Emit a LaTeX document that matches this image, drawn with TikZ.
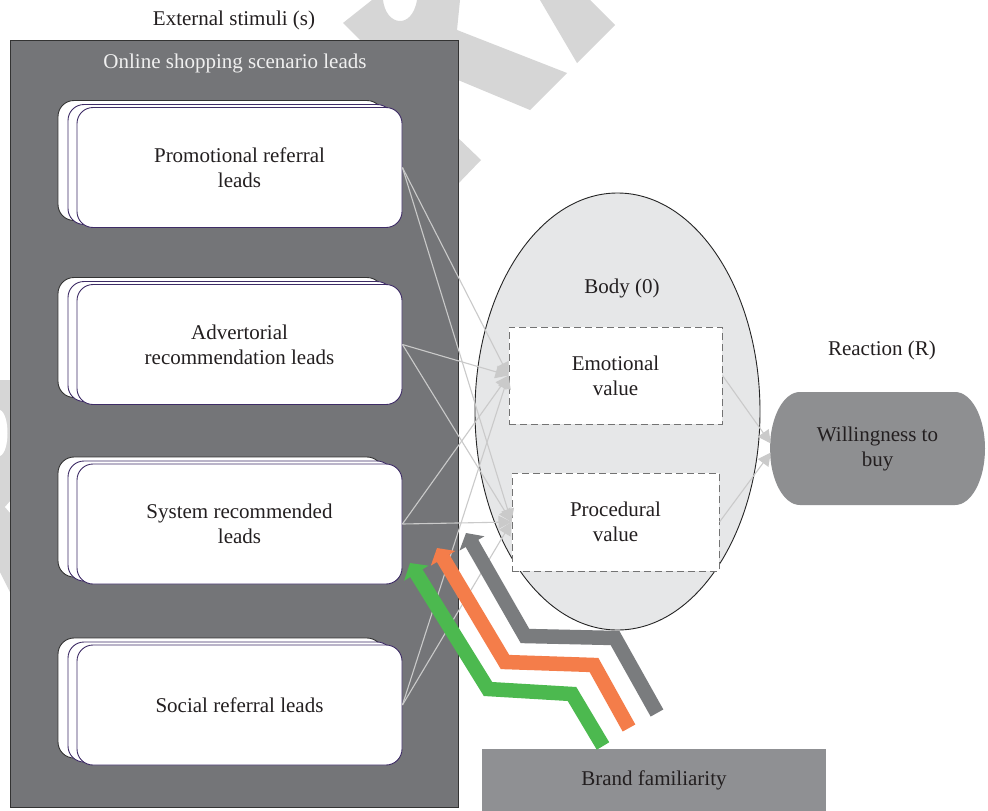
\documentclass[tikz,border=0pt]{standalone}
\usepackage{fontspec}
\setmainfont{Liberation Serif}
\usetikzlibrary{arrows.meta,shapes.geometric,calc}

\definecolor{stimfill}{HTML}{747578}
\definecolor{leadline}{HTML}{3E2C66}
\definecolor{bodyfill}{HTML}{E6E7E8}
\definecolor{pillfill}{HTML}{8E8F91}
\definecolor{brandfill}{HTML}{8F9093}
\definecolor{thinline}{HTML}{CACACA}
\definecolor{zgray}{HTML}{7A7C7E}
\definecolor{zorange}{HTML}{F47D4A}
\definecolor{zgreen}{HTML}{4CB94F}
\definecolor{wmark}{HTML}{D6D6D6}
\definecolor{ink}{HTML}{231F20}

\tikzset{
  lead/.style={rectangle, rounded corners=16pt, minimum width=325pt,
    minimum height=120pt, fill=white, draw=leadline, line width=0.9pt,
    align=center, inner sep=0pt, text=ink},
  leadback/.style={lead, draw=black!80},
  valuebox/.style={rectangle, draw=black!55, dash pattern=on 7pt off 4pt,
    line width=1pt, fill=white, align=center, inner sep=0pt, text=ink},
  label/.style={text=ink, inner sep=0pt},
  flow/.style={draw=thinline, line width=1.1pt,
    -{Triangle[length=13pt,width=13pt]}},
  band/.style={line width=14.5pt, line join=miter,
    -{Triangle[length=12pt,width=28pt]}},
}

\begin{document}
\begin{tikzpicture}[x=1pt, y=-1pt, font=\fontsize{21}{25}\selectfont]
\useasboundingbox (0,0) rectangle (988,811);
\fill[white] (0,0) rectangle (988,811);

% faint background marks
\fill[wmark] (343,23) -- (372,0) -- (383,0) .. controls (386,26) and (412,30) .. (417,0)
  -- (460,0) -- (457,30) -- (567,73) -- (530,110) -- (458,80) -- (458,60) -- (380,60) -- cycle;
\fill[wmark] (540,0) -- (590,0) -- (615,25) -- (577,63) -- cycle;
\fill[wmark] (455,135) -- (481,160) -- (455,187) -- cycle;
\fill[wmark] (0,380) -- (12,380) -- (12,596) -- (0,572) -- cycle;
\fill[white] (0,410) .. controls (10,414) and (10,452) .. (0,456) -- cycle;
\fill[white] (12,499) -- (5,507) -- (12,515) -- cycle;

% external stimuli panel
\node[label] (extlbl) at (234,20) {External stimuli (s)};
\node[rectangle, draw=black!80, line width=0.9pt, fill=stimfill,
  minimum width=448pt, minimum height=767pt, inner sep=0pt] (stim) at (234,423.5) {};
\node[text=white!94!black, inner sep=0pt] (onlbl) at (235,63) {Online shopping scenario leads};

% stacked lead cards
\node[leadback] (p1c) at (220.5,160.5) {};
\node[lead] (p1b) at (230.5,164.5) {};
\node[lead] (p1) at (239.5,167.5) {Promotional referral\\leads};

\node[leadback] (p2c) at (220.5,337.5) {};
\node[lead] (p2b) at (230.5,341.5) {};
\node[lead] (p2) at (239.5,344.5) {Advertorial\\recommendation leads};

\node[leadback] (p3c) at (220.5,517) {};
\node[lead] (p3b) at (230.5,521) {};
\node[lead] (p3) at (239.5,524) {System recommended\\leads};

\node[leadback] (p4c) at (220.5,698) {};
\node[lead] (p4b) at (230.5,702) {};
\node[lead] (p4) at (239.5,705) {Social referral leads};

% organism
\node[ellipse, draw=black!85, line width=0.9pt, fill=bodyfill,
  minimum width=285pt, minimum height=437pt, inner sep=0pt] (body) at (617.5,411.5) {};
\node[label] (bodylbl) at (622,288) {Body (0)};
\node[valuebox, minimum width=213pt, minimum height=97pt] (emo) at (615.5,375.5) {Emotional\\value};
\node[valuebox, minimum width=207pt, minimum height=98pt] (proc) at (615.5,522) {Procedural\\value};

% reaction
\node[label] (reactlbl) at (882,350) {Reaction (R)};
\fill[pillfill] (800,392) -- (955,392)
  arc[start angle=-90, end angle=90, x radius=30, y radius=56.5]
  -- (800,505)
  arc[start angle=90, end angle=270, x radius=30, y radius=56.5] -- cycle;
\node[label, align=center, minimum width=215pt, minimum height=113pt] (will) at (877.5,448.5) {Willingness to\\buy};

% moderator
\node[rectangle, fill=brandfill, minimum width=344pt, minimum height=64pt,
  inner sep=0pt] (brand) at (654,781) {};
\node[label] (brandlbl) at (654,780) {Brand familiarity};

% stimulus -> organism
\foreach \s in {p1,p2,p3,p4} {
  \draw[flow] (\s.east) -- (emo.west);
  \draw[flow] (\s.east) -- (proc.west);
}
% organism -> response
\draw[flow] (emo.east) -- ($(will.west)+(1,-5)$);
\draw[flow] (proc.east) -- ($(will.west)+(1,4)$);

% brand familiarity bands
\coordinate (ga) at (657,713); \coordinate (gb) at (615,638);
\coordinate (gc) at (525,636); \coordinate (gd) at (466,533);
\coordinate (oa) at (629,728); \coordinate (ob) at (594,665);
\coordinate (oc) at (505,662); \coordinate (od) at (437,548);
\coordinate (ea) at (603,746); \coordinate (eb) at (572,694);
\coordinate (ec) at (488,689); \coordinate (ed) at (410,563);
\draw[band, draw=zgray] (ga) -- (gb) -- (gc) -- (gd);
\draw[band, draw=zorange] (oa) -- (ob) -- (oc) -- (od);
\draw[band, draw=zgreen] (ea) -- (eb) -- (ec) -- (ed);
\end{tikzpicture}
\end{document}
